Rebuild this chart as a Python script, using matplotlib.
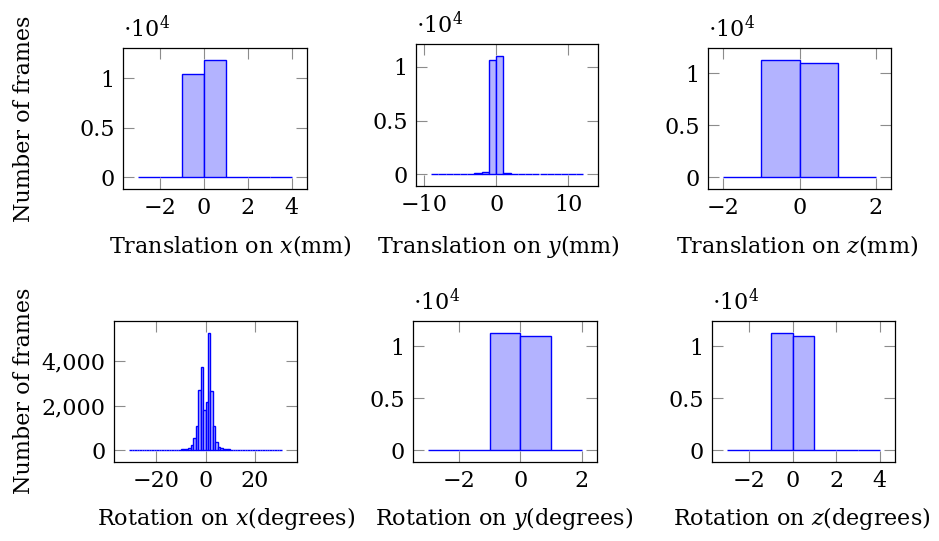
import matplotlib
matplotlib.use("Agg")
import matplotlib.pyplot as plt
import numpy as np
from matplotlib.ticker import FuncFormatter

plt.rcParams['font.family'] = ['DejaVu Serif']
plt.rcParams['mathtext.fontset'] = 'dejavuserif'
plt.rcParams['font.size'] = 16

# histogram counts, bins of width 1 starting at the given left edge
tx_start = -3
tx_counts = [5, 60, 10400, 11850, 60, 40, 5]

ty_start = -9
ty_counts = [2, 5, 10, 15, 25, 40, 125, 220, 10650, 11030, 90, 40, 30, 20, 15, 10, 8, 6, 5, 4, 3]

tz_start = -2
tz_counts = [20, 11280, 11000, 30]

rx_start = -31
rx_counts = [3, 3, 2, 3, 2, 2, 3, 2, 3, 3, 4, 4, 5, 6, 7, 8, 10, 12, 15, 20, 25, 35, 50, 70,
             110, 250, 560, 1080, 2700, 3740, 1810, 2140, 5260, 2670, 1100, 360, 160, 110, 70,
             50, 40, 30, 25, 20, 18, 15, 12, 10, 9, 8, 7, 6, 5, 5, 4, 4, 3, 3, 2, 2, 2, 1]

ry_start = -3
ry_counts = [2, 5, 11310, 11000, 30]

rz_start = -3
rz_counts = [2, 5, 11310, 11000, 40, 5, 3]

panels = [
    (tx_start, tx_counts, [-2, 0, 2, 4], [0, 5000, 10000], r'Translation on $x$(mm)'),
    (ty_start, ty_counts, [-10, 0, 10], [0, 5000, 10000], r'Translation on $y$(mm)'),
    (tz_start, tz_counts, [-2, 0, 2], [0, 5000, 10000], r'Translation on $z$(mm)'),
    (rx_start, rx_counts, [-20, 0, 20], [0, 2000, 4000], r'Rotation on $x$(degrees)'),
    (ry_start, ry_counts, [-2, 0, 2], [0, 5000, 10000], r'Rotation on $y$(degrees)'),
    (rz_start, rz_counts, [-2, 0, 2, 4], [0, 5000, 10000], r'Rotation on $z$(degrees)'),
]

W, H = 939, 541
# axes boxes in pixels: left, top, right, bottom
boxes = [(123, 48, 307, 189), (416, 44, 598, 186), (708, 48, 891, 189),
         (114, 321, 297, 462), (413, 321, 597, 462), (712, 321, 895, 462)]
xlabel_pos = [(230, 246), (498, 246), (797, 246), (226, 519), (504, 519), (802, 519)]

fig = plt.figure(figsize=(W / 100, H / 100), dpi=100)

for (start, counts, xt, yt, xlab), (l, t, r, b), (lx, ly) in zip(panels, boxes, xlabel_pos):
    ax = fig.add_axes([l / W, 1 - b / H, (r - l) / W, (b - t) / H])
    counts = np.array(counts)
    edges = start + np.arange(len(counts))
    ax.bar(edges, counts, width=1, align='edge', color='#b3b3ff',
           edgecolor='#0000ff', linewidth=1)
    x0, x1 = start, start + len(counts)
    dx = 0.1 * (x1 - x0)
    ax.set_xlim(x0 - dx, x1 + dx)
    ymax = counts.max()
    ax.set_ylim(-0.1 * ymax, 1.1 * ymax)
    ax.set_xticks(xt)
    ax.set_yticks(yt)
    ax.set_xticklabels(['\u2212%d' % -v if v < 0 else '%d' % v for v in xt])
    if max(yt) >= 10000:
        ax.yaxis.set_major_formatter(FuncFormatter(lambda v, p: '%g' % (v / 1e4)))
        ax.text(0.0, 1.04, r'$\cdot10^4$', transform=ax.transAxes,
                ha='left', va='bottom')
    else:
        ax.yaxis.set_major_formatter(FuncFormatter(lambda v, p: '{:,.0f}'.format(v)))
    ax.tick_params(direction='in', length=8, width=0.8, color='#8c8c8c',
                   top=True, right=True, pad=6)
    for s in ax.spines.values():
        s.set_linewidth(0.9)
    fig.text(lx / W, 1 - ly / H, xlab, ha='center', va='center')

fig.text(24 / W, 1 - 119 / H, 'Number of frames', rotation=90, ha='center', va='center')
fig.text(24 / W, 1 - 391 / H, 'Number of frames', rotation=90, ha='center', va='center')

fig.savefig('out.png', dpi=100)
